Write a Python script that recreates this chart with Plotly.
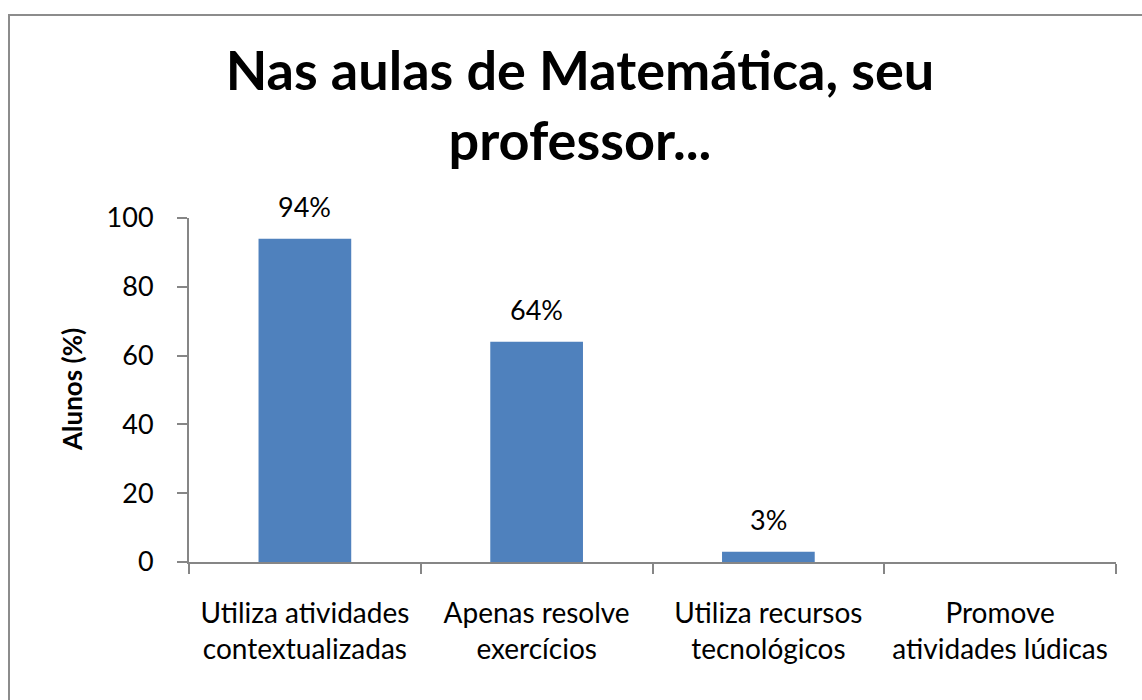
import plotly.graph_objects as go

# Survey results: what the teacher does in Mathematics classes
categories = [
    "Utiliza atividades<br>contextualizadas",
    "Apenas resolve<br>exercícios",
    "Utiliza recursos<br>tecnológicos",
    "Promove<br>atividades lúdicas",
]
percent = [94, 64, 3, 0]
y_ticks = [0, 20, 40, 60, 80, 100]

FONT = "Lato"
AXIS_GREY = "#868686"
BAR_BLUE = "#4F81BD"

fig = go.Figure()
fig.add_trace(go.Bar(
    x=categories,
    y=percent,
    marker=dict(color=BAR_BLUE, line=dict(width=0)),
    width=0.4,
    hoverinfo="x+y",
))

# value labels above the bars (categories with 0 get no label)
for cat, v in zip(categories, percent):
    if v > 0:
        fig.add_annotation(
            x=cat, y=v, text=f"{v}%", showarrow=False,
            yanchor="bottom", yshift=14,
            font=dict(family=FONT, size=27, color="#000000"),
        )

# vertical axis title
fig.add_annotation(
    xref="paper", yref="paper", x=(72 - 189) / 927, y=(562 - 390) / 344,
    text="<b>Alunos (%)</b>", textangle=-90, showarrow=False,
    xanchor="center", yanchor="middle",
    font=dict(family=FONT, size=26, color="#000000"),
)

# outer chart frame
fig.add_shape(
    type="rect", xref="paper", yref="paper",
    x0=(9 - 189) / 927, x1=1.2, y0=-0.6, y1=(562 - 15) / 344,
    line=dict(color="#8c8c8c", width=2), fillcolor="rgba(0,0,0,0)",
    layer="below",
)

fig.update_layout(
    width=1142, height=700,
    margin=dict(l=189, r=26, t=218, b=138),
    paper_bgcolor="white", plot_bgcolor="white",
    showlegend=False,
    title=dict(
        text="<b>Nas aulas de Matemática, seu<br>professor...</b>",
        x=580 / 1142, xanchor="center",
        y=1 - 90 / 700, yanchor="top",
        font=dict(family=FONT, size=54, color="#000000"),
    ),
    xaxis=dict(
        type="category",
        showline=True, linecolor=AXIS_GREY, linewidth=2,
        ticks="outside", tickson="boundaries", ticklen=10,
        tickcolor=AXIS_GREY, tickwidth=2,
        ticklabelstandoff=25,
        tickfont=dict(family=FONT, size=28, color="#000000"),
        showgrid=False, zeroline=False,
    ),
    yaxis=dict(
        range=[0, 100], tickvals=y_ticks,
        showline=True, linecolor=AXIS_GREY, linewidth=2,
        ticks="outside", ticklen=10, tickcolor=AXIS_GREY, tickwidth=2,
        ticklabelstandoff=18,
        tickfont=dict(family=FONT, size=27, color="#000000"),
        showgrid=False, zeroline=False,
    ),
)

fig.write_html("out.html")
